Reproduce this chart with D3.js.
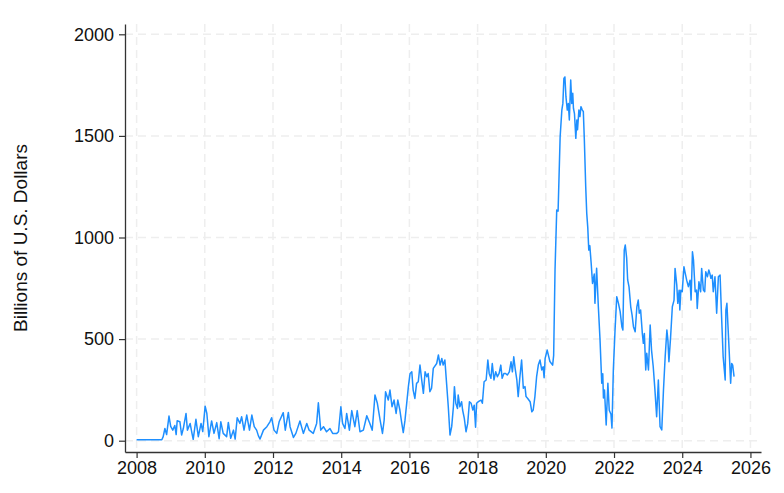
<!DOCTYPE html>
<html>
<head>
<meta charset="utf-8">
<script src="https://cdn.jsdelivr.net/npm/d3@7"></script>
<style>
  html, body { margin: 0; padding: 0; background: #fff; }
  svg { display: block; font-family: "Liberation Sans", Arial, Helvetica, sans-serif; }
</style>
</head>
<body>
<svg id="chart" width="784" height="493"></svg>
<script>
// ---- Data (decimal year, billions of U.S. dollars) ----
const years2008_2015 = [
  2008.00, 2008.74, 2008.78, 2008.83, 2008.88, 2008.95, 2009.00, 2009.06, 2009.12, 2009.16,
  2009.19, 2009.27, 2009.32, 2009.37, 2009.45, 2009.49, 2009.57, 2009.62, 2009.66, 2009.74,
  2009.81, 2009.89, 2009.94, 2010.01, 2010.06, 2010.12, 2010.20, 2010.27, 2010.35, 2010.42,
  2010.47, 2010.54, 2010.64, 2010.69, 2010.76, 2010.84, 2010.89, 2010.95, 2011.03, 2011.08,
  2011.15, 2011.23, 2011.31, 2011.38, 2011.45, 2011.52, 2011.57, 2011.62, 2011.72, 2011.82,
  2011.91, 2011.96, 2012.03, 2012.11, 2012.18, 2012.30, 2012.36, 2012.45, 2012.50, 2012.60,
  2012.67, 2012.79, 2012.89, 2012.99, 2013.06, 2013.18, 2013.28, 2013.33, 2013.40, 2013.48,
  2013.57, 2013.67, 2013.75, 2013.87, 2013.92, 2013.99, 2014.04, 2014.11, 2014.16, 2014.24,
  2014.31, 2014.40, 2014.47, 2014.55, 2014.65, 2014.75, 2014.84, 2014.91, 2014.99, 2015.06,
  2015.14, 2015.21, 2015.26, 2015.30, 2015.38, 2015.43, 2015.49, 2015.55, 2015.61, 2015.66,
  2015.72, 2015.77, 2015.82, 2015.87
];
const values2008_2015 = [
  5, 5, 20, 60, 30, 121, 70, 52, 75, 30,
  98, 93, 28, 60, 134, 52, 85, 40, 7, 105,
  20, 85, 45, 170, 134, 20, 97, 36, 89, 10,
  93, 36, 20, 90, 12, 52, 8, 113, 85, 118,
  52, 126, 52, 126, 69, 52, 25, 8, 52, 69,
  93, 113, 52, 36, 93, 138, 52, 139, 69, 16,
  36, 97, 36, 85, 52, 36, 85, 187, 52, 69,
  44, 60, 36, 36, 44, 167, 85, 60, 134, 52,
  148, 69, 148, 44, 52, 123, 85, 52, 225, 184,
  102, 36, 102, 241, 200, 249, 167, 200, 134, 200,
  151, 93, 40, 100
];

const years2016_2019 = [
  2015.97, 2016.02, 2016.07, 2016.11, 2016.16, 2016.21, 2016.26, 2016.31, 2016.36, 2016.41,
  2016.46, 2016.51, 2016.55, 2016.60, 2016.65, 2016.70, 2016.80, 2016.85, 2016.90, 2016.95,
  2016.99, 2017.04, 2017.09, 2017.14, 2017.19, 2017.24, 2017.29, 2017.32, 2017.36, 2017.41,
  2017.43, 2017.48, 2017.53, 2017.56, 2017.61, 2017.66, 2017.71, 2017.76, 2017.81, 2017.86,
  2017.90, 2017.94, 2017.97, 2018.02, 2018.10, 2018.14, 2018.19, 2018.25, 2018.30, 2018.34,
  2018.39, 2018.43, 2018.48, 2018.53, 2018.58, 2018.63, 2018.68, 2018.72, 2018.77, 2018.82,
  2018.87, 2018.93, 2018.98, 2019.02, 2019.06, 2019.10, 2019.15, 2019.19, 2019.24, 2019.29,
  2019.34, 2019.39, 2019.42, 2019.47, 2019.54, 2019.59, 2019.63, 2019.68, 2019.73, 2019.78,
  2019.83, 2019.88, 2019.92, 2019.95, 2019.98
];
const values2016_2019 = [
  266, 331, 339, 249, 208, 282, 290, 372, 299, 233,
  339, 315, 331, 241, 258, 356, 380, 422, 372, 405,
  372, 397, 282, 167, 28, 69, 167, 266, 184, 159,
  225, 167, 192, 151, 110, 44, 85, 192, 184, 151,
  175, 66, 184, 192, 200, 184, 290, 299, 397, 331,
  307, 380, 299, 339, 315, 331, 372, 307, 331, 331,
  323, 339, 388, 339, 413, 356, 299, 217, 315, 397,
  258, 266, 217, 208, 192, 142, 151, 217, 315, 372,
  397, 348, 364, 310, 405
];

const years2020_2021 = [
  2020.04, 2020.12, 2020.20, 2020.23, 2020.27, 2020.32, 2020.36, 2020.42, 2020.47, 2020.50,
  2020.53, 2020.56, 2020.59, 2020.63, 2020.66, 2020.69, 2020.73, 2020.76, 2020.79, 2020.81,
  2020.84, 2020.88, 2020.91, 2020.93, 2020.97, 2021.00, 2021.03, 2021.07, 2021.10, 2021.13,
  2021.17, 2021.20, 2021.23, 2021.26, 2021.29, 2021.33, 2021.37, 2021.42, 2021.44, 2021.49,
  2021.54, 2021.59, 2021.64, 2021.67, 2021.69, 2021.72, 2021.77, 2021.82, 2021.86, 2021.91,
  2021.94, 2021.98
];
const values2020_2021 = [
  446, 390, 372, 420, 840, 1135, 1130, 1496, 1627, 1660,
  1783, 1790, 1693, 1627, 1660, 1578, 1775, 1660, 1710, 1636,
  1610, 1488, 1578, 1530, 1627, 1595, 1644, 1627, 1620, 1480,
  1250, 1119, 1050, 938, 960, 873, 774, 820, 676, 849,
  660, 495, 283, 330, 210, 250, 77, 283, 150, 130,
  62, 348
];

const years2022_2025 = [
  2022.03, 2022.08, 2022.13, 2022.18, 2022.23, 2022.26, 2022.30, 2022.33, 2022.37, 2022.40,
  2022.44, 2022.49, 2022.53, 2022.57, 2022.62, 2022.67, 2022.71, 2022.74, 2022.78, 2022.83,
  2022.86, 2022.89, 2022.93, 2022.96, 2023.01, 2023.06, 2023.10, 2023.15, 2023.20, 2023.25,
  2023.30, 2023.35, 2023.40, 2023.45, 2023.50, 2023.55, 2023.58, 2023.61, 2023.66, 2023.71,
  2023.76, 2023.79, 2023.84, 2023.87, 2023.91, 2023.93, 2023.96, 2024.00, 2024.05, 2024.08,
  2024.13, 2024.18, 2024.23, 2024.26, 2024.30, 2024.33, 2024.38, 2024.42, 2024.44, 2024.49,
  2024.54, 2024.57, 2024.62, 2024.66, 2024.69, 2024.74, 2024.78, 2024.81, 2024.84, 2024.88,
  2024.91, 2024.96, 2025.01, 2025.06, 2025.11, 2025.15, 2025.20, 2025.26, 2025.28, 2025.31,
  2025.34, 2025.38, 2025.42, 2025.45, 2025.48, 2025.52
];
const values2022_2025 = [
  545, 709, 676, 635, 561, 545, 938, 963, 900, 791,
  757, 659, 618, 561, 536, 659, 692, 627, 643, 528,
  479, 528, 348, 430, 348, 569, 446, 364, 249, 118,
  299, 69, 53, 249, 413, 545, 495, 389, 512, 659,
  692, 848, 766, 676, 741, 643, 741, 733, 856, 831,
  790, 758, 790, 692, 930, 890, 733, 741, 651, 782,
  733, 848, 741, 733, 831, 807, 840, 823, 799, 815,
  733, 807, 627, 807, 815, 627, 413, 299, 643, 676,
  570, 430, 283, 380, 372, 315
];

const yTickValues = [0, 500, 1000, 1500, 2000];
const xTickValues = [2008, 2010, 2012, 2014, 2016, 2018, 2020, 2022, 2024, 2026];
const yAxisTitle = "Billions of U.S. Dollars";

(function () {
  // ---- Build series ----
  const allYears = [].concat(years2008_2015, years2016_2019, years2020_2021, years2022_2025);
  const allValues = [].concat(values2008_2015, values2016_2019, values2020_2021, values2022_2025);
  const series = allYears.map((t, i) => ({ t, v: allValues[i] }));

  // ---- Layout ----
  const svg = d3.select("#chart");
  const plotLeft = 125, plotRight = 761, plotTop = 24, plotBottom = 452;

  const x = d3.scaleLinear().domain([2007.66, 2026.31]).range([plotLeft, plotRight]);
  const y = d3.scaleLinear().domain([-55.6, 2050.7]).range([plotBottom, plotTop]);

  // gridlines
  const grid = svg.append("g").attr("class", "grid");
  grid.selectAll("line.h").data(yTickValues).join("line")
    .attr("class", "h")
    .attr("x1", plotLeft).attr("x2", plotRight)
    .attr("y1", d => y(d)).attr("y2", d => y(d))
    .attr("stroke", "#eeeeee").attr("stroke-width", 1.5)
    .attr("stroke-dasharray", "8,5");
  grid.selectAll("line.v").data(xTickValues).join("line")
    .attr("class", "v")
    .attr("y1", plotTop).attr("y2", plotBottom)
    .attr("x1", d => x(d)).attr("x2", d => x(d))
    .attr("stroke", "#eeeeee").attr("stroke-width", 1.5)
    .attr("stroke-dasharray", "8,5");

  // line
  const line = d3.line().x(d => x(d.t)).y(d => y(d.v));
  svg.append("path").datum(series)
    .attr("d", line)
    .attr("fill", "none")
    .attr("stroke", "#1e8fff")
    .attr("stroke-width", 1.5)
    .attr("stroke-linejoin", "round");

  // axes
  const yAxis = d3.axisLeft(y).tickValues(yTickValues).tickFormat(d3.format("d"))
    .tickSize(6).tickSizeOuter(0).tickPadding(5);
  const gy = svg.append("g").attr("transform", `translate(${plotLeft},0)`).call(yAxis);

  const xAxis = d3.axisBottom(x).tickValues(xTickValues).tickFormat(d3.format("d"))
    .tickSize(6).tickSizeOuter(0).tickPadding(3);
  const gx = svg.append("g").attr("transform", `translate(0,${plotBottom})`).call(xAxis);

  [gx, gy].forEach(g => {
    g.select(".domain").attr("stroke", "#333").attr("stroke-width", 1.3);
    g.selectAll(".tick line").attr("stroke", "#333").attr("stroke-width", 1.2);
    g.selectAll(".tick text").attr("fill", "#111")
      .style("font-size", "18px")
      .style("font-family", "'Liberation Sans', Arial, sans-serif");
  });

  // y-axis title
  svg.append("text")
    .attr("transform", `translate(27,238) rotate(-90)`)
    .attr("text-anchor", "middle")
    .attr("fill", "#111")
    .style("font-size", "19px")
    .text(yAxisTitle);
})();
</script>
</body>
</html>
